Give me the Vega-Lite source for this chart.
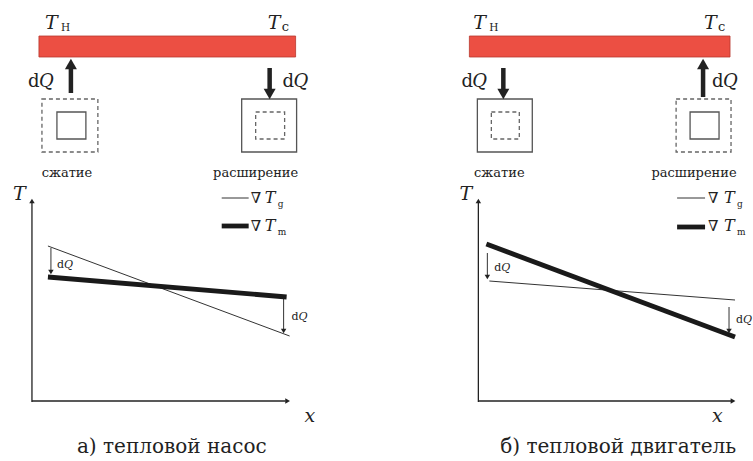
{
  "$schema": "https://vega.github.io/schema/vega-lite/v6.json",
  "width": 753,
  "height": 461,
  "autosize": {"type": "fit", "contains": "padding"},
  "padding": 0,
  "background": "white",
  "config": {"view": {"stroke": null}},
  "datasets": {
    "bars": [
      {"x": 39, "x2": 296, "y": 36, "y2": 57},
      {"x": 470, "x2": 731, "y": 36, "y2": 57}
    ],
    "solidBoxes": [
      {"x": 57, "x2": 86, "y": 112, "y2": 139},
      {"x": 242, "x2": 297, "y": 99, "y2": 152},
      {"x": 478, "x2": 533, "y": 99, "y2": 152},
      {"x": 691, "x2": 720, "y": 112, "y2": 139}
    ],
    "dashedBoxes": [
      {"x": 42, "x2": 98, "y": 99, "y2": 152},
      {"x": 256, "x2": 285, "y": 112, "y2": 139},
      {"x": 492, "x2": 520, "y": 112, "y2": 139},
      {"x": 677, "x2": 732, "y": 99, "y2": 152}
    ],
    "rules": [
      {"x": 48, "y": 246, "x2": 290, "y2": 336, "w": "thin"},
      {"x": 48, "y": 277, "x2": 287, "y2": 297, "w": "thick"},
      {"x": 490, "y": 281, "x2": 736, "y2": 300, "w": "thin"},
      {"x": 487, "y": 244, "x2": 736, "y2": 337, "w": "thick"},
      {"x": 222, "y": 198, "x2": 249, "y2": 198, "w": "thin"},
      {"x": 222, "y": 226, "x2": 249, "y2": 226, "w": "thick"},
      {"x": 678, "y": 198, "x2": 706, "y2": 198, "w": "thin"},
      {"x": 678, "y": 227, "x2": 706, "y2": 227, "w": "thick"},
      {"x": 32, "y": 402, "x2": 32, "y2": 202, "w": "axis"},
      {"x": 32, "y": 401, "x2": 286, "y2": 401, "w": "axis"},
      {"x": 479, "y": 402, "x2": 479, "y2": 202, "w": "axis"},
      {"x": 479, "y": 401, "x2": 732, "y2": 401, "w": "axis"},
      {"x": 71, "y": 66, "x2": 71, "y2": 93, "w": "arrow"},
      {"x": 270, "y": 68, "x2": 270, "y2": 91, "w": "arrow"},
      {"x": 504, "y": 68, "x2": 504, "y2": 91, "w": "arrow"},
      {"x": 704, "y": 66, "x2": 704, "y2": 97, "w": "arrow"},
      {"x": 51, "y": 248, "x2": 51, "y2": 271, "w": "thin"},
      {"x": 284, "y": 298, "x2": 284, "y2": 330, "w": "thin"},
      {"x": 488, "y": 253, "x2": 488, "y2": 276, "w": "thin"},
      {"x": 730, "y": 307, "x2": 730, "y2": 330, "w": "thin"}
    ],
    "bigHeads": [
      {"x": 71, "y": 64, "dir": "up"},
      {"x": 270, "y": 94, "dir": "down"},
      {"x": 504, "y": 94, "dir": "down"},
      {"x": 704, "y": 64, "dir": "up"}
    ],
    "smallHeads": [
      {"x": 51, "y": 272, "dir": "down"},
      {"x": 284, "y": 331, "dir": "down"},
      {"x": 488, "y": 277, "dir": "down"},
      {"x": 730, "y": 331, "dir": "down"},
      {"x": 32, "y": 201, "dir": "up"},
      {"x": 479, "y": 201, "dir": "up"},
      {"x": 288, "y": 401, "dir": "right"},
      {"x": 734, "y": 401, "dir": "right"}
    ],
    "texts": [
      {"x": 45, "y": 29, "text": "T", "role": "T"},
      {"x": 268, "y": 29, "text": "T", "role": "T"},
      {"x": 474, "y": 29, "text": "T", "role": "T"},
      {"x": 705, "y": 29, "text": "T", "role": "T"},
      {"x": 61, "y": 31, "text": "H", "role": "subH"},
      {"x": 282, "y": 31, "text": "c", "role": "subC"},
      {"x": 490, "y": 31, "text": "H", "role": "subH"},
      {"x": 719, "y": 31, "text": "c", "role": "subC"},
      {"x": 28, "y": 87, "text": "d", "role": "d"},
      {"x": 39, "y": 87, "text": "Q", "role": "Q"},
      {"x": 283, "y": 87, "text": "d", "role": "d"},
      {"x": 294, "y": 87, "text": "Q", "role": "Q"},
      {"x": 462, "y": 87, "text": "d", "role": "d"},
      {"x": 473, "y": 87, "text": "Q", "role": "Q"},
      {"x": 713, "y": 87, "text": "d", "role": "d"},
      {"x": 724, "y": 87, "text": "Q", "role": "Q"},
      {"x": 67, "y": 177, "text": "сжатие", "role": "box"},
      {"x": 256, "y": 177, "text": "расширение", "role": "box"},
      {"x": 500, "y": 177, "text": "сжатие", "role": "box"},
      {"x": 695, "y": 177, "text": "расширение", "role": "box"},
      {"x": 13, "y": 200, "text": "T", "role": "T"},
      {"x": 460, "y": 200, "text": "T", "role": "T"},
      {"x": 305, "y": 422, "text": "x", "role": "T"},
      {"x": 713, "y": 422, "text": "x", "role": "T"},
      {"x": 251, "y": 203, "text": "∇", "role": "nabla"},
      {"x": 251, "y": 231, "text": "∇", "role": "nabla"},
      {"x": 709, "y": 203, "text": "∇", "role": "nabla"},
      {"x": 709, "y": 231, "text": "∇", "role": "nabla"},
      {"x": 265, "y": 203, "text": "T", "role": "legT"},
      {"x": 265, "y": 231, "text": "T", "role": "legT"},
      {"x": 725, "y": 203, "text": "T", "role": "legT"},
      {"x": 725, "y": 231, "text": "T", "role": "legT"},
      {"x": 278, "y": 207, "text": "g", "role": "legSub"},
      {"x": 278, "y": 235, "text": "m", "role": "legSub"},
      {"x": 738, "y": 207, "text": "g", "role": "legSub"},
      {"x": 738, "y": 235, "text": "m", "role": "legSub"},
      {"x": 57, "y": 268, "text": "d", "role": "sd"},
      {"x": 64, "y": 268, "text": "Q", "role": "sQ"},
      {"x": 292, "y": 320, "text": "d", "role": "sd"},
      {"x": 299, "y": 320, "text": "Q", "role": "sQ"},
      {"x": 495, "y": 271, "text": "d", "role": "sd"},
      {"x": 502, "y": 271, "text": "Q", "role": "sQ"},
      {"x": 737, "y": 323, "text": "d", "role": "sd"},
      {"x": 744, "y": 323, "text": "Q", "role": "sQ"},
      {"x": 172, "y": 453, "text": "а) тепловой насос", "role": "caption"},
      {"x": 619, "y": 453, "text": "б) тепловой двигатель", "role": "caption"}
    ]
  },
  "encoding": {
    "x": {"field": "x", "type": "quantitative", "scale": {"domain": [0, 753], "nice": false, "zero": false}, "axis": null},
    "y": {"field": "y", "type": "quantitative", "scale": {"domain": [0, 461], "nice": false, "zero": false, "reverse": true}, "axis": null}
  },
  "layer": [
    {
      "data": {"name": "bars"},
      "mark": {"type": "rect", "fill": "#EC4F43", "stroke": "#B8382E", "strokeWidth": 0.8},
      "encoding": {"x2": {"field": "x2"}, "y2": {"field": "y2"}}
    },
    {
      "data": {"name": "solidBoxes"},
      "mark": {"type": "rect", "fill": null, "fillOpacity": 0, "stroke": "#555555", "strokeWidth": 1.3},
      "encoding": {"x2": {"field": "x2"}, "y2": {"field": "y2"}}
    },
    {
      "data": {"name": "dashedBoxes"},
      "mark": {"type": "rect", "fill": null, "fillOpacity": 0, "stroke": "#666666", "strokeWidth": 1.3, "strokeDash": [4, 3]},
      "encoding": {"x2": {"field": "x2"}, "y2": {"field": "y2"}}
    },
    {
      "data": {"name": "rules"},
      "transform": [{"filter": "datum.w === 'thin'"}],
      "mark": {"type": "rule", "color": "#333333", "strokeWidth": 1},
      "encoding": {"x2": {"field": "x2"}, "y2": {"field": "y2"}}
    },
    {
      "data": {"name": "rules"},
      "transform": [{"filter": "datum.w === 'thick'"}],
      "mark": {"type": "rule", "color": "#1a1a1a", "strokeWidth": 4.8},
      "encoding": {"x2": {"field": "x2"}, "y2": {"field": "y2"}}
    },
    {
      "data": {"name": "rules"},
      "transform": [{"filter": "datum.w === 'axis'"}],
      "mark": {"type": "rule", "color": "#222222", "strokeWidth": 1.3},
      "encoding": {"x2": {"field": "x2"}, "y2": {"field": "y2"}}
    },
    {
      "data": {"name": "rules"},
      "transform": [{"filter": "datum.w === 'arrow'"}],
      "mark": {"type": "rule", "color": "#222222", "strokeWidth": 4.5},
      "encoding": {"x2": {"field": "x2"}, "y2": {"field": "y2"}}
    },
    {
      "data": {"name": "bigHeads"},
      "mark": {"type": "point", "filled": true, "size": 144, "color": "#222222", "opacity": 1},
      "encoding": {
        "shape": {"field": "dir", "type": "nominal", "scale": {"domain": ["up", "down", "right"], "range": ["triangle-up", "triangle-down", "triangle-right"]}, "legend": null}
      }
    },
    {
      "data": {"name": "smallHeads"},
      "mark": {"type": "point", "filled": true, "size": 30, "color": "#222222", "opacity": 1},
      "encoding": {
        "shape": {"field": "dir", "type": "nominal", "scale": {"domain": ["up", "down", "right"], "range": ["triangle-up", "triangle-down", "triangle-right"]}, "legend": null}
      }
    },
    {"data": {"name": "texts"}, "transform": [{"filter": "datum.role === 'T'"}],
     "mark": {"type": "text", "font": "DejaVu Serif", "baseline": "alphabetic", "align": "left", "color": "#222222", "fontStyle": "italic", "fontSize": 19}, "encoding": {"text": {"field": "text"}}},
    {"data": {"name": "texts"}, "transform": [{"filter": "datum.role === 'subH'"}],
     "mark": {"type": "text", "font": "DejaVu Serif", "baseline": "alphabetic", "align": "left", "color": "#222222", "fontSize": 10.5}, "encoding": {"text": {"field": "text"}}},
    {"data": {"name": "texts"}, "transform": [{"filter": "datum.role === 'subC'"}],
     "mark": {"type": "text", "font": "DejaVu Serif", "baseline": "alphabetic", "align": "left", "color": "#222222", "fontSize": 13}, "encoding": {"text": {"field": "text"}}},
    {"data": {"name": "texts"}, "transform": [{"filter": "datum.role === 'd'"}],
     "mark": {"type": "text", "font": "DejaVu Serif", "baseline": "alphabetic", "align": "left", "color": "#222222", "fontSize": 18}, "encoding": {"text": {"field": "text"}}},
    {"data": {"name": "texts"}, "transform": [{"filter": "datum.role === 'Q'"}],
     "mark": {"type": "text", "font": "DejaVu Serif", "baseline": "alphabetic", "align": "left", "color": "#222222", "fontStyle": "italic", "fontSize": 18}, "encoding": {"text": {"field": "text"}}},
    {"data": {"name": "texts"}, "transform": [{"filter": "datum.role === 'box'"}],
     "mark": {"type": "text", "font": "DejaVu Serif", "baseline": "alphabetic", "color": "#222222", "fontSize": 13, "align": "center"}, "encoding": {"text": {"field": "text"}}},
    {"data": {"name": "texts"}, "transform": [{"filter": "datum.role === 'nabla'"}],
     "mark": {"type": "text", "font": "DejaVu Serif", "baseline": "alphabetic", "align": "left", "color": "#222222", "fontSize": 15}, "encoding": {"text": {"field": "text"}}},
    {"data": {"name": "texts"}, "transform": [{"filter": "datum.role === 'legT'"}],
     "mark": {"type": "text", "font": "DejaVu Serif", "baseline": "alphabetic", "align": "left", "color": "#222222", "fontStyle": "italic", "fontSize": 16}, "encoding": {"text": {"field": "text"}}},
    {"data": {"name": "texts"}, "transform": [{"filter": "datum.role === 'legSub'"}],
     "mark": {"type": "text", "font": "DejaVu Serif", "baseline": "alphabetic", "align": "left", "color": "#222222", "fontSize": 9}, "encoding": {"text": {"field": "text"}}},
    {"data": {"name": "texts"}, "transform": [{"filter": "datum.role === 'sd'"}],
     "mark": {"type": "text", "font": "DejaVu Serif", "baseline": "alphabetic", "align": "left", "color": "#222222", "fontSize": 11}, "encoding": {"text": {"field": "text"}}},
    {"data": {"name": "texts"}, "transform": [{"filter": "datum.role === 'sQ'"}],
     "mark": {"type": "text", "font": "DejaVu Serif", "baseline": "alphabetic", "align": "left", "color": "#222222", "fontStyle": "italic", "fontSize": 11}, "encoding": {"text": {"field": "text"}}},
    {"data": {"name": "texts"}, "transform": [{"filter": "datum.role === 'caption'"}],
     "mark": {"type": "text", "font": "DejaVu Serif", "baseline": "alphabetic", "color": "#222222", "fontSize": 20, "align": "center"}, "encoding": {"text": {"field": "text"}}}
  ]
}
